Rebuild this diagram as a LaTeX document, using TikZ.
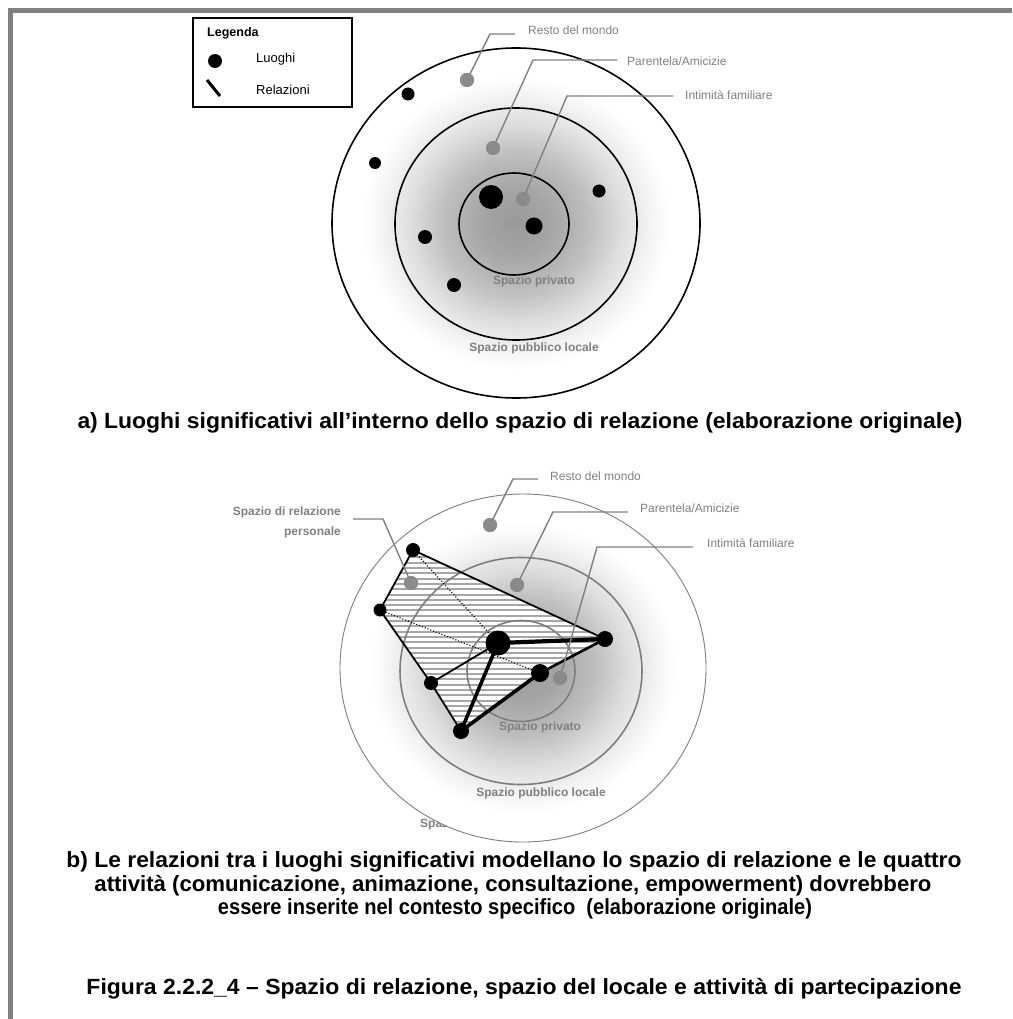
\documentclass[tikz,border=0pt]{standalone}
\usepackage{fontspec}
\usepackage{graphicx}
\setmainfont{Liberation Sans}
\usetikzlibrary{calc}

\definecolor{framegray}{HTML}{808080}
\definecolor{lblgray}{HTML}{808080}
\definecolor{dotgray}{HTML}{8A8A8A}
\definecolor{ringgray}{HTML}{7E7E7E}
\definecolor{hatchgray}{HTML}{A6A6A6}

% soft grey core fading to white at the rim
\pgfdeclareradialshading{haze}{\pgfpoint{0bp}{0bp}}{%
  color(0bp)=(black!40); color(5bp)=(black!35); color(10bp)=(black!25);
  color(14bp)=(black!14); color(18bp)=(black!5); color(21bp)=(white);
  color(50bp)=(white)}

\newcommand{\capline}[2]{\resizebox{#1}{\height}{\fontsize{22}{26}\selectfont\bfseries #2}}

\begin{document}
\begin{tikzpicture}[x=1pt,y=-1pt,
  lbl/.style={font=\fontsize{12}{14}\selectfont, text=lblgray, inner sep=0pt},
  lblb/.style={font=\fontsize{12}{20}\selectfont\bfseries, text=lblgray, inner sep=0pt},
  leader/.style={draw=lblgray, line width=1.4pt, line join=round},
  place/.style={circle, fill=black, inner sep=0pt, minimum size=#1},
  gplace/.style={circle, fill=dotgray, inner sep=0pt, minimum size=14pt},
  caption/.style={inner sep=0pt, text=black},
  edge/.style={draw=black, line width=#1, line join=round, line cap=round},
  dotline/.style={draw=black, line width=1.1pt, dash pattern=on 1.1pt off 1.9pt},
]
\useasboundingbox (0,0) rectangle (1012,1019);
\fill[white] (0,0) rectangle (1012,1019);

% page frame
\fill[framegray] (8,8) rectangle (1012,13);
\fill[framegray] (8,8) rectangle (13,1019);

% ---------------- legend ----------------
\node[draw=black, line width=1.3pt, minimum width=159pt, minimum height=89pt, inner sep=0pt] (legend) at (272.5,62.5) {};
\node[anchor=west, inner sep=0pt, font=\fontsize{12.5}{14}\selectfont\bfseries] (legtitle) at (207,33) {Legenda};
\node[place=14pt] (legdot) at (215,61) {};
\node[anchor=west, inner sep=0pt, font=\fontsize{13}{15}\selectfont] (legdottxt) at (256,59) {Luoghi};
\coordinate (legA) at (207,80);
\coordinate (legB) at (220,96);
\draw[line width=3pt] (legA) -- (legB);
\node[anchor=west, inner sep=0pt, font=\fontsize{13}{15}\selectfont] (leglinetxt) at (256,90) {Relazioni};

% ---------------- diagram a ----------------
\shade[shading=haze] (516,223) ellipse [x radius=184pt, y radius=175pt];
\draw[line width=1.6pt] (516,223) ellipse [x radius=184pt, y radius=175pt];
\draw[line width=1.6pt] (516,224) ellipse [x radius=121pt, y radius=116pt];
\draw[line width=1.6pt] (514,224) ellipse [x radius=55pt, y radius=51pt];

\node[lblb] (aprivate) at (534,281) {Spazio privato};
\node[lblb] (apublic) at (534,348) {Spazio pubblico locale};

% labels and leaders
\node[lbl, anchor=west] (at1) at (528,30) {Resto del mondo};
\node[lbl, anchor=west] (at2) at (627,61) {Parentela/Amicizie};
\node[lbl, anchor=west] (at3) at (685,95) {Intimità familiare};
\node[gplace] (ag1) at (467,80) {};
\node[gplace] (ag2) at (493,148) {};
\node[gplace] (ag3) at (523,199) {};
\coordinate (ak1) at (490,34);  \coordinate (ae1) at (515,34);
\coordinate (ak2) at (533,60);  \coordinate (ae2) at (617,60);
\coordinate (ak3) at (567,96);  \coordinate (ae3) at (673,96);
\draw[leader] (ag1.center) -- (ak1) -- (ae1);
\draw[leader] (ag2.center) -- (ak2) -- (ae2);
\draw[leader] (ag3.center) -- (ak3) -- (ae3);
\node[gplace] at (ag1) {};
\node[gplace] at (ag2) {};
\node[gplace] at (ag3) {};

% significant places
\node[place=13pt] (a1) at (408,94) {};
\node[place=12pt] (a2) at (375,163) {};
\node[place=24pt] (a3) at (491,197) {};
\node[place=13pt] (a4) at (599,191) {};
\node[place=17pt] (a5) at (534,226) {};
\node[place=14pt] (a6) at (425,237) {};
\node[place=14pt] (a7) at (454,285) {};

\node[caption] (capa) at (520,423) {\capline{885pt}{a) Luoghi significativi all’interno dello spazio di relazione (elaborazione originale)}};

% ---------------- diagram b ----------------
\node[lblb, text=lblgray, anchor=west] (bouter) at (420,824) {Spazio};
\shade[shading=haze] (523,668) ellipse [x radius=183pt, y radius=174pt];
\draw[ringgray, line width=0.9pt] (523,668) ellipse [x radius=183pt, y radius=174pt];

\coordinate (pTL) at (413,550);
\coordinate (pL)  at (380,610);
\coordinate (pC)  at (498,643);
\coordinate (pR)  at (605,639);
\coordinate (pD)  at (540,673);
\coordinate (pM)  at (431,683);
\coordinate (pB)  at (461,731);

% hatched personal space
\begin{scope}
  \clip (pTL) -- (pR) -- (pD) -- (pB) -- (pM) -- (pL) -- cycle;
  \fill[white] (370,540) rectangle (615,740);
  \foreach \hy in {541.5,546.8,...,740} \draw[hatchgray, line width=2pt] (370,\hy) -- (615,\hy);
\end{scope}

\draw[ringgray, line width=1.6pt] (521,671) ellipse [x radius=121pt, y radius=113.5pt];
\draw[ringgray, line width=1.6pt] (521,671) ellipse [x radius=54pt, y radius=50.5pt];

\node[lblb] (bprivate) at (540,727) {Spazio privato};
\node[lblb] (bpublic) at (541,793) {Spazio pubblico locale};

% relations
\draw[dotline] (pTL) -- (pC);
\draw[dotline] (pL) -- (pD);
\draw[edge=1.8pt] (pTL) -- (pR);
\draw[edge=1.8pt] (pTL) -- (pL);
\draw[edge=1.8pt] (pL) -- (pM) -- (pB);
\draw[edge=1.8pt] (pM) -- (pC);
\draw[edge=2.6pt] (pR) -- (pD);
\draw[edge=3.6pt] (pD) -- (pB);
\draw[edge=3.6pt] (pC) -- (pB);
\draw[edge=4.2pt] (pC) -- (pR);

% labels and leaders
\node[lbl, anchor=west] (bt1) at (550,476) {Resto del mondo};
\node[lbl, anchor=west] (bt2) at (640,508) {Parentela/Amicizie};
\node[lbl, anchor=west] (bt3) at (707,543) {Intimità familiare};
\node[lblb, anchor=east, align=right] (bt4) at (341,522) {Spazio di relazione\\personale};
\node[gplace] (bg1) at (490,525) {};
\node[gplace] (bg2) at (517,585) {};
\node[gplace] (bg3) at (560,678) {};
\node[gplace] (bg4) at (411,583) {};
\coordinate (bk1) at (513,479); \coordinate (be1) at (538,479);
\coordinate (bk2) at (553,512); \coordinate (be2) at (628,512);
\coordinate (bk3) at (597,547); \coordinate (be3) at (693,547);
\coordinate (bk4) at (383,519); \coordinate (be4) at (353,519);
\draw[leader] (bg1.center) -- (bk1) -- (be1);
\draw[leader] (bg2.center) -- (bk2) -- (be2);
\draw[leader] (bg3.center) -- (bk3) -- (be3);
\draw[leader] (bg4.center) -- (bk4) -- (be4);
\node[gplace] at (bg1) {};
\node[gplace] at (bg2) {};
\node[gplace] at (bg3) {};
\node[gplace] at (bg4) {};

% places of diagram b
\node[place=14pt] (b1) at (pTL) {};
\node[place=13pt] (b2) at (pL) {};
\node[place=25pt] (b3) at (pC) {};
\node[place=16pt] (b4) at (pR) {};
\node[place=18pt] (b5) at (pD) {};
\node[place=14pt] (b6) at (pM) {};
\node[place=16pt] (b7) at (pB) {};

\node[caption] (capb1) at (514,862) {\capline{895pt}{b) Le relazioni tra i luoghi significativi modellano lo spazio di relazione e le quattro}};
\node[caption] (capb2) at (513,886) {\capline{837pt}{attività (comunicazione, animazione, consultazione, empowerment) dovrebbero}};
\node[caption] (capb3) at (515,909) {\capline{594pt}{essere inserite nel contesto specifico~~(elaborazione originale)}};
\node[caption] (capfig) at (524,989) {\capline{875pt}{Figura 2.2.2\_4 – Spazio di relazione, spazio del locale e attività di partecipazione}};
\end{tikzpicture}
\end{document}
